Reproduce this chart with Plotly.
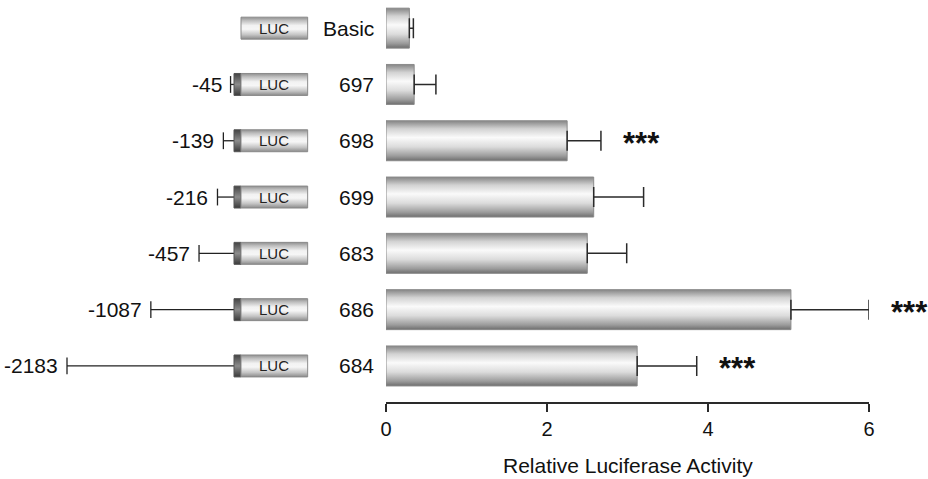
import plotly.graph_objects as go

# ---------------- data ----------------
constructs = ["Basic", "697", "698", "699", "683", "686", "684"]
promoter_bp = [0, 45, 139, 216, 457, 1087, 2183]
activity = [0.29, 0.35, 2.25, 2.58, 2.50, 5.03, 3.12]
error = [0.05, 0.27, 0.42, 0.62, 0.49, 0.97, 0.74]
significance = ["", "", "***", "", "", "***", "***"]
x_ticks = [0, 2, 4, 6]
axis_title = "Relative Luciferase Activity"

# ---------------- style / layout constants ----------------
W, H = 928, 479
FONT = "Liberation Sans, Arial, sans-serif"
TXT = "#111111"
rows = list(range(len(constructs)))
bar_half = 0.355
box_half = 0.195
dark_seg = (0.0, 91.5)      # promoter stub drawn on the LUC cassette (x2 units)
luc_seg = (91.5, 963.0)

bar_scale = [[0, "#6e6e6e"], [0.12, "#9c9c9c"], [0.35, "#dcdcdc"],
             [0.58, "#fafafa"], [0.8, "#d2d2d2"], [1, "#858585"]]
box_scale = [[0, "#8a8a8a"], [0.2, "#c4c4c4"], [0.45, "#f6f6f6"],
             [0.62, "#f2f2f2"], [0.85, "#bdbdbd"], [1, "#8f8f8f"]]
dark_scale = [[0, "#3a3a3a"], [0.5, "#8c8c8c"], [1, "#444444"]]

fig = go.Figure()


def rect(x0, x1, yc, half, scale, line_col, xa="x"):
    return go.Scatter(
        x=[x0, x1, x1, x0, x0],
        y=[yc - half, yc - half, yc + half, yc + half, yc - half],
        mode="lines", fill="toself",
        fillgradient=dict(type="vertical", colorscale=scale),
        line=dict(color=line_col, width=1),
        xaxis=xa, yaxis="y", hoverinfo="skip", showlegend=False,
    )


# bars
for r, v in zip(rows, activity):
    fig.add_trace(rect(0, v, r, bar_half, bar_scale, "#8a8a8a"))

# error bars (positive only)
fig.add_trace(go.Scatter(
    x=activity, y=rows, mode="markers",
    marker=dict(size=1, color="rgba(0,0,0,0)"),
    error_x=dict(type="data", symmetric=False, array=error,
                 arrayminus=[0] * len(error), color="#2a2a2a",
                 thickness=1.5, width=10),
    hoverinfo="skip", showlegend=False,
))

# construct diagrams (left, x2 axis in bp)
for r, bp in zip(rows, promoter_bp):
    if bp > 0:
        fig.add_trace(go.Scatter(
            x=[-bp, dark_seg[0]], y=[r, r], mode="lines",
            line=dict(color="#222222", width=1.3),
            xaxis="x2", yaxis="y", hoverinfo="skip", showlegend=False))
        fig.add_trace(go.Scatter(
            x=[-bp], y=[r], mode="markers",
            marker=dict(symbol="line-ns", size=12,
                        line=dict(color="#222222", width=1.3)),
            xaxis="x2", yaxis="y", hoverinfo="skip", showlegend=False))
        fig.add_trace(rect(dark_seg[0], dark_seg[1], r, box_half,
                           dark_scale, "#555555", "x2"))
    fig.add_trace(rect(luc_seg[0], luc_seg[1], r, box_half,
                       box_scale, "#8a8a8a", "x2"))

annotations = []
for r, bp in zip(rows, promoter_bp):
    annotations.append(dict(
        x=(luc_seg[0] + luc_seg[1]) / 2, y=r, xref="x2", yref="y",
        text="LUC", showarrow=False, font=dict(size=15, color="#222222", family=FONT)))
    if bp > 0:
        annotations.append(dict(
            x=-bp, y=r, xref="x2", yref="y", text=f"-{bp}",
            xanchor="right", xshift=-7, showarrow=False,
            font=dict(size=21, color=TXT, family=FONT)))

for r, name in zip(rows, constructs):
    annotations.append(dict(
        x=0, y=r, xref="x", yref="y", text=name, xanchor="right",
        xshift=-10, showarrow=False, font=dict(size=21, color=TXT, family=FONT)))

for r, v, e, s in zip(rows, activity, error, significance):
    if s:
        annotations.append(dict(
            x=v + e, y=r, xref="x", yref="y", text=s, xanchor="left",
            xshift=20, yshift=-3, showarrow=False,
            font=dict(size=31, color=TXT, family=FONT, weight="bold")))

annotations.append(dict(
    x=3, y=0, xref="x", yref="paper", yshift=0, text=axis_title,
    yanchor="bottom", showarrow=False,
    font=dict(size=21, color=TXT, family=FONT)))

px_per_row = 56.3
y_bottom_px = 402
y_range = [y_bottom_px / px_per_row - 0.5, -0.5]
bp_per_px = 2183 / 167.0
x2_left_px, x2_zero_px, x2_right_px = 0, 234, 330

fig.update_layout(
    width=W, height=H,
    margin=dict(l=0, r=0, t=0, b=0),
    paper_bgcolor="white", plot_bgcolor="white",
    font=dict(family=FONT, color=TXT),
    showlegend=False,
    annotations=annotations,
    xaxis=dict(
        domain=[386 / W, 869 / W], range=[0, 6], anchor="y",
        tickvals=x_ticks, ticktext=[str(t) for t in x_ticks],
        ticks="outside", ticklen=8, tickwidth=1.5, tickcolor="#2a2a2a",
        showline=True, linecolor="#2a2a2a", linewidth=1.5,
        showgrid=False, zeroline=False,
        tickfont=dict(size=20, color=TXT, family=FONT), automargin=False,
    ),
    xaxis2=dict(
        domain=[x2_left_px / W, x2_right_px / W],
        range=[-(x2_zero_px - x2_left_px) * bp_per_px,
               (x2_right_px - x2_zero_px) * bp_per_px],
        anchor="y", visible=False, showgrid=False, zeroline=False,
    ),
    yaxis=dict(
        domain=[(H - y_bottom_px) / H, 1], range=y_range,
        visible=False, showgrid=False, zeroline=False,
    ),
)

fig.write_html("out.html")
